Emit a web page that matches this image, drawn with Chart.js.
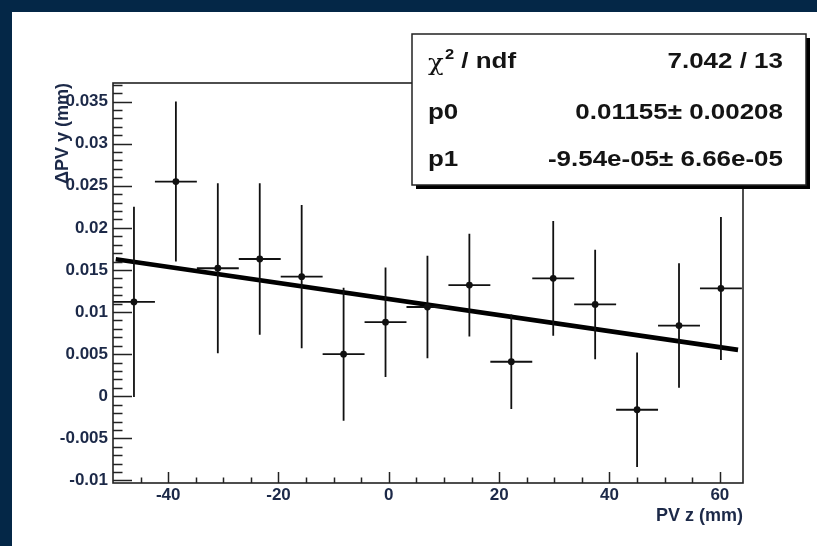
<!DOCTYPE html>
<html>
<head>
<meta charset="utf-8">
<script src="https://cdn.jsdelivr.net/npm/chart.js@4.4.1/dist/chart.umd.min.js"></script>
<style>
  body { margin: 0; background: #042747; width: 817px; height: 546px; overflow: hidden; }
  #wrap { position: absolute; left: 12px; top: 12px; width: 805px; height: 534px; background: #fff; }
</style>
</head>
<body>
<div id="wrap"><canvas id="c"></canvas></div>
<script>
// bin centres, values and errors
const binX   = [-46.2, -38.6, -31.0, -23.4, -15.8, -8.2, -0.6, 7.0, 14.6, 22.2, 29.8, 37.4, 45.0, 52.6, 60.2];
const binHalfWidth = 3.8;
const valY   = [0.0112, 0.0255, 0.0152, 0.0163, 0.0142, 0.0050, 0.0088, 0.0106, 0.0132, 0.0041, 0.0140, 0.0109, -0.0016, 0.0084, 0.0128];
const errY   = [0.0113, 0.0095, 0.0101, 0.0090, 0.0085, 0.0079, 0.0065, 0.0061, 0.0061, 0.0056, 0.0068, 0.0065, 0.0068, 0.0074, 0.0085];

// fit line end points
const fitX = [-49.5, 63.3];
const fitY = [0.01627, 0.00551];

const xTicks = [-40, -20, 0, 20, 40, 60];
const xTickLabels = ['-40', '-20', '0', '20', '40', '60'];
const yTicks = [-0.01, -0.005, 0, 0.005, 0.01, 0.015, 0.02, 0.025, 0.03, 0.035];
const yTickLabels = ['-0.01', '-0.005', '0', '0.005', '0.01', '0.015', '0.02', '0.025', '0.03', '0.035'];

const statsRows = [
  ['χ', '2', ' / ndf', '7.042 / 13'],
  ['p0', '', '', '0.01155± 0.00208'],
  ['p1', '', '', '-9.54e-05± 6.66e-05']
];

const txtColor = '#1c2948';
const fontName = '"Liberation Sans", Arial, sans-serif';

// ROOT style frame, inward ticks, error bars
const rootStyle = {
  id: 'rootStyle',
  afterDatasetsDraw(chart) {
    const ctx = chart.ctx;
    const xs = chart.scales.x, ys = chart.scales.y;
    ctx.save();
    ctx.strokeStyle = '#111';
    ctx.fillStyle = '#111';
    ctx.lineWidth = 1.8;
    for (let i = 0; i < binX.length; i++) {
      let px = xs.getPixelForValue(binX[i]);
      let py = ys.getPixelForValue(valY[i]);
      let x0 = xs.getPixelForValue(binX[i] - binHalfWidth);
      let x1 = xs.getPixelForValue(binX[i] + binHalfWidth);
      let y0 = ys.getPixelForValue(valY[i] - errY[i]);
      let y1 = ys.getPixelForValue(valY[i] + errY[i]);
      ctx.beginPath();
      ctx.moveTo(x0, py); ctx.lineTo(x1, py);
      ctx.moveTo(px, y0); ctx.lineTo(px, y1);
      ctx.stroke();
      ctx.beginPath();
      ctx.arc(px, py, 3.4, 0, Math.PI * 2);
      ctx.fill();
    }
    ctx.restore();
  },
  afterDraw(chart) {
    const ctx = chart.ctx, a = chart.chartArea;
    const xs = chart.scales.x, ys = chart.scales.y;
    ctx.save();
    ctx.strokeStyle = '#222';
    ctx.lineWidth = 1.6;
    ctx.strokeRect(a.left, a.top, a.right - a.left, a.bottom - a.top);
    ctx.lineWidth = 1.5;
    ctx.beginPath();
    for (let v = -10; v <= 37; v++) {
      let py = Math.round(ys.getPixelForValue(v / 1000)) + 0.5;
      let len = (v % 5 === 0) ? 19 : 9.5;
      ctx.moveTo(a.left, py); ctx.lineTo(a.left + len, py);
    }
    for (let v = -45; v <= 60; v += 5) {
      let px = Math.round(xs.getPixelForValue(v)) + 0.5;
      let len = (v % 20 === 0) ? 11 : 5.5;
      ctx.moveTo(px, a.bottom); ctx.lineTo(px, a.bottom - len);
    }
    ctx.stroke();

    // stats box
    const bx = 400, by = 22, bw = 394, bh = 151;
    ctx.fillStyle = '#000';
    ctx.fillRect(bx + 4, by + 4, bw, bh);
    ctx.fillStyle = '#fff';
    ctx.fillRect(bx, by, bw, bh);
    ctx.strokeStyle = '#222';
    ctx.lineWidth = 1.5;
    ctx.strokeRect(bx, by, bw, bh);

    ctx.fillStyle = '#141414';
    ctx.textBaseline = 'middle';
    const rowY = [50, 101, 148];
    const sx = 1.18;
    for (let r = 0; r < statsRows.length; r++) {
      const [name, sup, rest, val] = statsRows[r];
      ctx.save();
      ctx.translate(bx + 16, rowY[r]);
      ctx.scale(sx, 1);
      ctx.font = 'bold 22px ' + fontName;
      ctx.textAlign = 'left';
      let w = 0;
      if (sup) {
        ctx.font = '22px "DejaVu Serif", serif';
        ctx.fillText(name, 0, 2);
        w = ctx.measureText(name).width + 1;
        ctx.font = 'bold 14px ' + fontName;
        ctx.fillText(sup, w, -7);
        w += ctx.measureText(sup).width;
        ctx.font = 'bold 22px ' + fontName;
        ctx.fillText(rest, w, 0);
      } else {
        ctx.fillText(name, 0, 0);
      }
      ctx.restore();
      ctx.save();
      ctx.translate(bx + 371, rowY[r]);
      ctx.scale(sx, 1);
      ctx.font = 'bold 22px ' + fontName;
      ctx.textAlign = 'right';
      ctx.fillText(val, 0, 0);
      ctx.restore();
    }
    ctx.restore();
  }
};

new Chart(document.getElementById('c'), {
  type: 'scatter',
  data: {
    datasets: [{
      label: 'fit',
      type: 'line',
      data: fitX.map((x, i) => ({x: x, y: fitY[i]})),
      borderColor: '#000',
      borderWidth: 4.6,
      pointRadius: 0,
      order: 0
    }]
  },
  options: {
    responsive: true,
    maintainAspectRatio: false,
    animation: false,
    events: [],
    layout: { padding: { top: 71, right: 74, left: 0, bottom: 0 } },
    plugins: { legend: { display: false }, tooltip: { enabled: false } },
    scales: {
      x: {
        type: 'linear', min: -50, max: 64.2,
        grid: { display: false, drawTicks: false },
        border: { display: false },
        afterBuildTicks: s => { s.ticks = xTicks.map(v => ({value: v})); },
        afterFit: s => { s.height = 63; },
        ticks: {
          padding: 2, color: txtColor,
          font: { family: fontName, size: 17, weight: 'bold' },
          callback: (v, i) => xTickLabels[i]
        },
        title: {
          display: true, text: 'PV z (mm)', align: 'end', color: txtColor,
          font: { family: fontName, size: 18, weight: 'bold' },
          padding: { top: 0, bottom: 19 }
        }
      },
      y: {
        type: 'linear', min: -0.0103, max: 0.0372,
        grid: { display: false, drawTicks: false },
        border: { display: false },
        afterBuildTicks: s => { s.ticks = yTicks.map(v => ({value: v})); },
        afterFit: s => { s.width = 101; },
        ticks: {
          padding: 5, color: txtColor,
          font: { family: fontName, size: 17, weight: 'bold' },
          callback: (v, i) => yTickLabels[i]
        },
        title: {
          display: true, text: 'ΔPV y (mm)', align: 'end', color: txtColor,
          font: { family: fontName, size: 18, weight: 'bold' },
          padding: { top: 40, bottom: 0 }
        }
      }
    }
  },
  plugins: [rootStyle]
});
</script>
</body>
</html>
